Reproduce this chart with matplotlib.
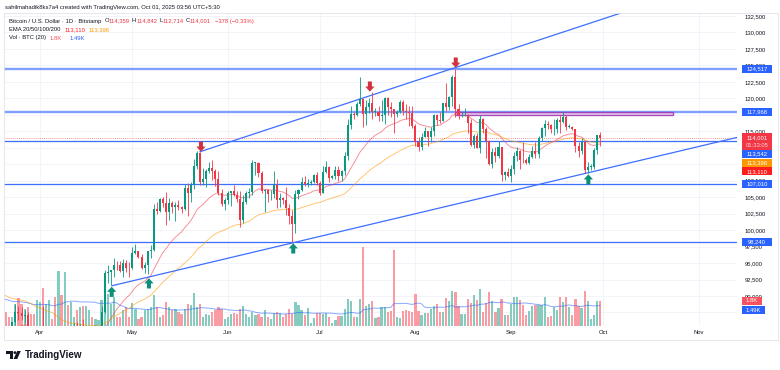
import matplotlib
matplotlib.use("Agg")
import matplotlib.pyplot as plt
import matplotlib.transforms as mtransforms
from matplotlib.patches import FancyArrow, Rectangle, Polygon, Circle
from matplotlib.lines import Line2D
import numpy as np
import pandas as pd

plt.rcParams['font.family'] = ['Liberation Sans', 'DejaVu Sans']

W, H = 780, 370

# --- daily BTC/USD (Bitstamp), 2025-03-20 .. 2025-09-30 ---
start_date = "2025-03-20"
prev_close = 86850  # close of 2025-03-19

closes = [
    84170, 84040, 83830, 86080, 87500, 87420, 86900, 87180, 84350, 82600,
    82340, 82550, 85150, 82500, 83100, 83850, 83500, 78200, 79200, 76300,
    82600, 79600, 83400, 85300, 83700, 84500, 83650, 84000, 84900, 84450,
    85100, 85100, 87500, 93450, 93700, 93950, 94700, 94650, 93750, 95050,
    94300, 94200, 96500, 96900, 95900, 94300, 94750, 96800, 97050, 103250,
    102950, 104650, 104100, 102800, 104150, 103500, 103750, 103500, 103200, 106400,
    105600, 106800, 109700, 111700, 107300, 107800, 109000, 109400, 108900, 107800,
    105650, 103900, 104600, 105700, 105900, 105400, 104700, 101500, 104300, 105600,
    105800, 110250, 110250, 108700, 105900, 106100, 105450, 105550, 106800, 104600,
    104850, 104600, 103300, 102200, 100950, 105550, 106050, 107300, 106950, 107100,
    107350, 108400, 107150, 105700, 108850, 109600, 107950, 108200, 109200, 108250,
    108950, 111300, 115950, 117550, 117450, 119100, 119850, 117700, 118750, 119300,
    117950, 117950, 117300, 117450, 120000, 118750, 118350, 117600, 117950, 119450,
    118050, 117900, 117800, 115750, 113300, 112550, 114200, 115050, 114100, 115000,
    117500, 116650, 116500, 119300, 118700, 120150, 123300, 118350, 117450, 117450,
    117500, 116250, 112900, 114250, 112500, 116900, 115400, 113500, 110100, 111800,
    111200, 112550, 108400, 108800, 108250, 109250, 111200, 112050, 110700, 110650,
    110200, 111150, 112050, 111500, 113950, 115500, 116100, 115950, 115350, 115400,
    116750, 116450, 117100, 115700, 115700, 115300, 112700, 112000, 113300, 109050,
    109650, 109650, 112100, 114379, 114001]

highs = [
    87450, 84850, 84500, 86100, 88800, 88500, 88300, 87800, 87500, 84600,
    83500, 83900, 85500, 88500, 83900, 84700, 84200, 83800, 81200, 80800,
    83500, 82700, 84200, 85900, 86100, 85800, 86500, 85500, 85500, 85000,
    85600, 85300, 88500, 93900, 94700, 94000, 95800, 95300, 95300, 95600,
    95500, 95200, 97400, 97900, 96900, 96300, 95200, 96900, 97700, 104000,
    104300, 104900, 105000, 105800, 104900, 104400, 104200, 104500, 103700, 107000,
    107100, 107300, 110800, 111980, 111900, 109500, 109300, 110400, 110700, 109300,
    108900, 106300, 104900, 105900, 105900, 106800, 106000, 105900, 105400, 106000,
    106400, 110600, 110400, 110400, 108900, 106200, 106200, 106100, 108900, 107700,
    105600, 105100, 106500, 104000, 103000, 106100, 106300, 108000, 108200, 107800,
    107600, 108500, 108800, 107500, 109800, 110500, 109700, 108400, 109700, 109700,
    109200, 111900, 116800, 118900, 118000, 119500, 123200, 119900, 119800, 120100,
    120900, 118600, 118900, 119700, 120200, 120200, 119500, 118400, 118300, 119800,
    119800, 119200, 118800, 118900, 116100, 114100, 114700, 115700, 115100, 115700,
    117700, 117600, 117900, 119300, 122300, 120300, 123600, 124517, 119200, 117900,
    118500, 117600, 116800, 114600, 114800, 117400, 117000, 115700, 113700, 112400,
    112600, 113500, 112600, 108950, 109500, 109900, 111800, 112600, 112200, 113400,
    111000, 111600, 112800, 113300, 114300, 115600, 116700, 116600, 116100, 116800,
    117000, 117400, 117900, 117500, 116100, 115800, 115400, 113300, 114000, 113400,
    110400, 110000, 112400, 114500, 114842]

lows = [
    83650, 83200, 83650, 83800, 85550, 86300, 86300, 85850, 83600, 81600,
    81600, 81300, 82400, 82300, 81200, 81700, 82400, 77200, 74500, 76200,
    74600, 78400, 78900, 82800, 83000, 83600, 83600, 83100, 83800, 84100,
    84300, 83900, 85100, 87400, 91900, 91700, 92900, 93900, 93600, 92900,
    93700, 92900, 94100, 96300, 95700, 94100, 93500, 93400, 95800, 96900,
    102400, 102800, 103500, 100800, 101500, 102600, 101400, 103100, 102600, 103100,
    102100, 104300, 106200, 109300, 106800, 106900, 106600, 108600, 107600, 106700,
    105300, 103600, 103100, 103900, 103700, 105200, 104200, 100400, 101100, 103900,
    104900, 105300, 108400, 108000, 105700, 102700, 104300, 104500, 104900, 103400,
    103500, 103900, 102300, 100900, 98240, 99600, 104700, 105900, 106700, 106500,
    106900, 107200, 106800, 105300, 105600, 108600, 107300, 107800, 107800, 107500,
    107500, 108400, 110600, 115300, 116900, 117300, 118900, 115700, 115900, 117800,
    116800, 117300, 116600, 116500, 116100, 117400, 117200, 114700, 117200, 117800,
    117500, 116900, 115800, 115500, 112700, 112000, 112100, 114100, 112700, 113400,
    114300, 115900, 116300, 116500, 118100, 118200, 118900, 117200, 116900, 117200,
    117300, 114700, 112700, 112400, 112400, 111700, 114700, 110900, 109900, 109400,
    110400, 110900, 107500, 107600, 108100, 107270, 108500, 110500, 109300, 110200,
    110000, 110000, 110900, 110900, 110900, 113500, 114300, 115400, 114800, 114400,
    114800, 114700, 116200, 115200, 115500, 115200, 111900, 111100, 111500, 108600,
    108700, 109100, 109300, 111600, 112714]

# volume, thousand BTC
volumes = [
    1.15, 1.0, 0.65, 0.65, 1.6, 2.0, 1.6, 1.2, 1.35, 0.85,
    0.85, 1.85, 1.7, 2.75, 1.6, 1.85, 0.5, 2.1, 3.95, 2.25,
    3.9, 1.5, 1.7, 0.65, 1.15, 1.35, 1.45, 1.45, 1.15, 0.65,
    0.5, 0.45, 1.85, 2.3, 2.3, 1.6, 2.1, 0.65, 0.65, 1.15,
    1.35, 0.65, 1.65, 1.2, 0.5, 0.65, 1.15, 1.2, 1.35, 2.25,
    1.35, 0.65, 0.8, 1.7, 1.35, 1.15, 1.2, 1.0, 0.85, 1.2,
    1.6, 1.5, 2.35, 1.35, 1.6, 0.65, 0.85, 0.8, 1.0, 1.15,
    1.35, 1.2, 0.5, 0.65, 0.85, 0.95, 0.85, 1.2, 1.45, 0.85,
    0.65, 1.0, 0.8, 0.85, 0.65, 1.15, 0.65, 0.5, 0.95, 1.0,
    0.95, 0.65, 0.85, 1.2, 0.85, 1.7, 1.5, 1.15, 0.8, 1.3,
    0.2, 0.6, 0.95, 0.95, 0.85, 0.95, 0.65, 0.2, 0.45, 0.7,
    0.7, 1.2, 1.95, 1.8, 0.65, 0.65, 1.95, 5.7, 1.45, 1.6,
    1.8, 0.6, 0.65, 1.35, 1.35, 1.0, 1.1, 5.45, 0.65, 0.6,
    1.1, 1.15, 1.1, 1.0, 2.3, 1.1, 0.8, 0.95, 0.95, 1.2,
    1.45, 1.6, 1.0, 1.0, 2.0, 1.8, 2.5, 2.45, 1.45, 0.85,
    0.85, 1.95, 1.65, 2.25, 1.85, 2.65, 1.0, 1.65, 2.45, 1.8,
    1.0, 1.3, 1.95, 0.8, 0.8, 1.6, 2.1, 2.1, 1.85, 1.5,
    0.8, 1.1, 1.45, 1.5, 1.5, 1.5, 2.1, 0.65, 0.7, 1.35,
    1.15, 2.1, 1.7, 2.1, 1.35, 0.8, 1.95, 1.45, 1.3, 2.5,
    1.8, 0.5, 0.8, 1.8, 1.8]

ema20_seed = 85000
ema50_seed = 90500
vol_ma_seed = 2.0

month_starts = ["2025-04-01", "2025-05-01", "2025-06-01", "2025-07-01",
                "2025-08-01", "2025-09-01", "2025-10-01", "2025-11-01"]
month_names = ["Apr", "May", "Jun", "Jul", "Aug", "Sep", "Oct", "Nov"]

# price scale labels (those hidden behind the tags are left out)
price_ticks = [90000, 92500, 95000, 97500, 100000, 102500, 105000, 107500,
               115000, 120000, 122500, 125000, 127500, 130000, 132500]
grid_levels = list(range(87500, 132501, 2500))

# drawings on the chart (x = days since Apr 1)
bold_levels = [124517, 117968]
thin_levels = [113542, 107010, 98240]
last_price = 114001
lower_trend_x = [23.4, 226.5]
lower_trend_y = [91560, 114070]
upper_trend_x = [52.0, 188.5]
upper_trend_y = [111900, 132910]
box_x = [134.9, 205.7]
box_y = [117400, 117968]
green_arrow_x = [23.3, 35.4, 82.3, 178.2]
green_arrow_tip = [91410, 92690, 98000, 108470]
red_arrow_x = [52.3, 107.2, 135.1]
red_arrow_tip = [111900, 121010, 124650]

UP, DOWN = '#089981', '#f23645'
DARK = '#131722'
BLUE = '#2962ff'

# --- derived series ---
dates = pd.date_range(start_date, periods=len(closes), freq='D')
origin = pd.Timestamp("2025-04-01")
x = np.array((dates - origin).days, dtype=float)
c = np.array(closes, dtype=float)
o = np.concatenate([[prev_close], c[:-1]])
hi = np.array(highs, dtype=float)
lo = np.array(lows, dtype=float)
up = c >= o


def ema(values, seed, n):
    a = 2.0 / (n + 1)
    out, e = [], seed
    for v in values:
        e = e + a * (v - e)
        out.append(e)
    return np.array(out)


ema20 = ema(c, ema20_seed, 20)
ema50 = ema(c, ema50_seed, 50)
vol_ma = pd.Series([vol_ma_seed] * 19 + volumes).rolling(20).mean().to_numpy()[19:]

# --- figure ---
fig = plt.figure(figsize=(W / 100, H / 100), dpi=100)
fig.patch.set_facecolor('white')
rect = [4 / W, (H - 326) / H, 733 / W, 313 / H]
ax_vol = fig.add_axes(rect)
ax = fig.add_axes(rect, sharex=ax_vol)
ax.patch.set_alpha(0)

ax.set_xlim(-11.7, 226.5)
ax.set_ylim(85445, 132955)
ax_vol.set_ylim(0, 22.5)

for a in (ax, ax_vol):
    for s in a.spines.values():
        s.set_visible(False)

# grid underneath everything
gtrans = mtransforms.blended_transform_factory(ax_vol.transAxes, ax.transData)
for p in grid_levels:
    ax_vol.add_line(Line2D([0, 1], [p, p], transform=gtrans, color='#f0f3fa', lw=0.6, zorder=0))
month_x = [(pd.Timestamp(m) - origin).days for m in month_starts]
for mx in month_x:
    ax_vol.axvline(mx, color='#f0f3fa', lw=0.6, zorder=0)

# volume
vol_colors = ['#84ccc0' if u else '#f99ca4' for u in up]
ax_vol.bar(x, volumes, width=0.72, color=vol_colors, zorder=2)
ax_vol.plot(x, vol_ma, color=BLUE, alpha=0.55, lw=0.7, zorder=3)
ax_vol.tick_params(axis='both', length=0, labelleft=False, labelbottom=False)

# emas
ax.plot(x, ema20, color=DOWN, alpha=0.55, lw=0.7, zorder=3)
ax.plot(x, ema50, color='#ff9800', alpha=0.55, lw=0.7, zorder=3)

# levels, trendlines, zone
for p in bold_levels:
    ax.axhline(p, color='#7fa0ff', lw=1.7, zorder=2)
for p in thin_levels:
    ax.axhline(p, color='#3d6fff', lw=0.9, zorder=2)
ax.axhline(last_price, color=DOWN, lw=0.6, ls=(0, (1, 1.5)), alpha=0.7, zorder=2)
ax.plot(lower_trend_x, lower_trend_y, color='#3d6fff', lw=0.9, zorder=3)
ax.plot(upper_trend_x, upper_trend_y, color='#3d6fff', lw=0.9, zorder=3)
ax.add_patch(Rectangle((box_x[0], box_y[0]), box_x[1] - box_x[0], box_y[1] - box_y[0],
                       facecolor='#e1bee7', edgecolor='#9c27b0', lw=1.0, alpha=0.8, zorder=3))

# candles
cols = [UP if u else DOWN for u in up]
ax.vlines(x, lo, hi, colors=cols, lw=0.6, zorder=4)
body = np.maximum(np.abs(c - o), 60)
ax.bar(x, body, bottom=np.minimum(o, c), width=0.66, color=cols, zorder=5)

# arrows
for ax_x, tip in zip(green_arrow_x, green_arrow_tip):
    ax.add_patch(FancyArrow(ax_x, tip - 1550, 0, 1550, width=1.3, head_width=3.0,
                            head_length=780, length_includes_head=True,
                            color='#0a8f78', lw=0, zorder=6))
for ax_x, tip in zip(red_arrow_x, red_arrow_tip):
    ax.add_patch(FancyArrow(ax_x, tip + 1550, 0, -1550, width=1.3, head_width=3.0,
                            head_length=780, length_includes_head=True,
                            color='#d0323e', lw=0, zorder=6))

# axes ticks
ax.yaxis.tick_right()
ax.set_yticks(price_ticks)
ax.set_yticklabels([f"{p:,}" for p in price_ticks])
ax.tick_params(axis='y', length=0, labelsize=4.2, labelcolor=DARK, pad=5.5)
ax.set_xticks(month_x)
ax.set_xticklabels(month_names)
ax.tick_params(axis='x', length=0, labelsize=4.2, labelcolor=DARK, pad=3.2)

# --- overlays in pixel space ---
ident = mtransforms.IdentityTransform()


def py(ytop):
    return H - ytop


def tag(ydisp, label, color, w=30, h=8, tc='white'):
    fig.add_artist(Rectangle((742, ydisp - h / 2), w, h, transform=ident,
                             facecolor=color, edgecolor='none', zorder=10))
    fig.text(742 + w / 2, ydisp, label, transform=ident, ha='center', va='center',
             color=tc, fontsize=4.2, zorder=11)


def price_px(p):
    return ax.transData.transform((0, p))[1]


def vol_px(v):
    return ax_vol.transData.transform((0, v))[1]


for p in bold_levels + [107010, 98240]:
    tag(price_px(p), f"{p:,}", BLUE)
fig.add_artist(Rectangle((742, price_px(last_price) - 12.5), 30, 17, transform=ident,
                         facecolor=DOWN, edgecolor='none', zorder=10))
fig.text(757, price_px(last_price) + 0.5, "114,001", transform=ident, ha='center',
         va='center', color='white', fontsize=4.2, zorder=11)
fig.text(757, price_px(last_price) - 8, "01:33:05", transform=ident, ha='center',
         va='center', color='#ffd7da', fontsize=4.2, zorder=11)
tag(price_px(113542) - 13, "113,542", BLUE)
tag(price_px(113396) - 21, "113,396", '#ff9800')
tag(price_px(ema20[-1]) - 27.5, "113,110", '#ff1e1e')
tag(vol_px(volumes[-1]), "1.8K", '#f7525f', w=20)
tag(vol_px(vol_ma[-1]) - 4.7, "1.49K", BLUE, w=23)

# frame + header separator
frame = dict(transform=ident, color='#e0e3eb', lw=0.6)
fig.add_artist(Line2D([4, 778], [py(13), py(13)], **frame))
fig.add_artist(Line2D([4, 778], [py(340), py(340)], **frame))
fig.add_artist(Line2D([4, 4], [py(13), py(340)], **frame))
fig.add_artist(Line2D([778, 778], [py(13), py(340)], **frame))

fig.text(5, py(7), "sahilmahadik8ks7a4 created with TradingView.com, Oct 01, 2025 03:56 UTC+5:30",
         transform=ident, fontsize=4.2, color=DARK, va='center')

renderer = fig.canvas.get_renderer()


def text_row(x0, ytop, parts):
    xx = x0
    for s, col, gap in parts:
        xx += gap
        t = fig.text(xx, py(ytop), s, transform=ident, fontsize=4.2, color=col,
                     va='center', ha='left', zorder=12)
        xx += t.get_window_extent(renderer=renderer).width


text_row(9, 21, [("Bitcoin / U.S. Dollar · 1D · Bitstamp", DARK, 0),
                 ("O", DARK, 3), ("114,359", DOWN, 0),
                 ("H", DARK, 2), ("114,842", DOWN, 0),
                 ("L", DARK, 2), ("112,714", DOWN, 0),
                 ("C", DARK, 2), ("114,001", DOWN, 0),
                 ("−378 (−0.33%)", DOWN, 4)])
text_row(9, 29.5, [("EMA 20/50/100/200", DARK, 0), ("113,110", '#ff1e1e', 4),
                   ("113,396", '#ff9800', 3)])
text_row(9, 38, [("Vol · BTC (20)", DARK, 0), ("1.8K", '#f7525f', 4),
                 ("1.49K", BLUE, 7)])

# TradingView logo
logo = dict(transform=ident, facecolor=DARK, edgecolor='none')
fig.add_artist(Polygon([(6, py(351)), (12.7, py(351)), (12.7, py(359)), (10, py(359)),
                        (10, py(353.7)), (6, py(353.7))], **logo))
fig.add_artist(Circle((14.9, py(352.6)), 1.4, **logo))
fig.add_artist(Polygon([(17.2, py(351)), (20.8, py(351)), (17.2, py(359)), (13.6, py(359))], **logo))
fig.text(24.5, py(355), "TradingView", transform=ident, fontsize=7, fontweight='bold',
         color=DARK, va='center', ha='left')

fig.savefig("out.png", dpi=100, facecolor='white')
